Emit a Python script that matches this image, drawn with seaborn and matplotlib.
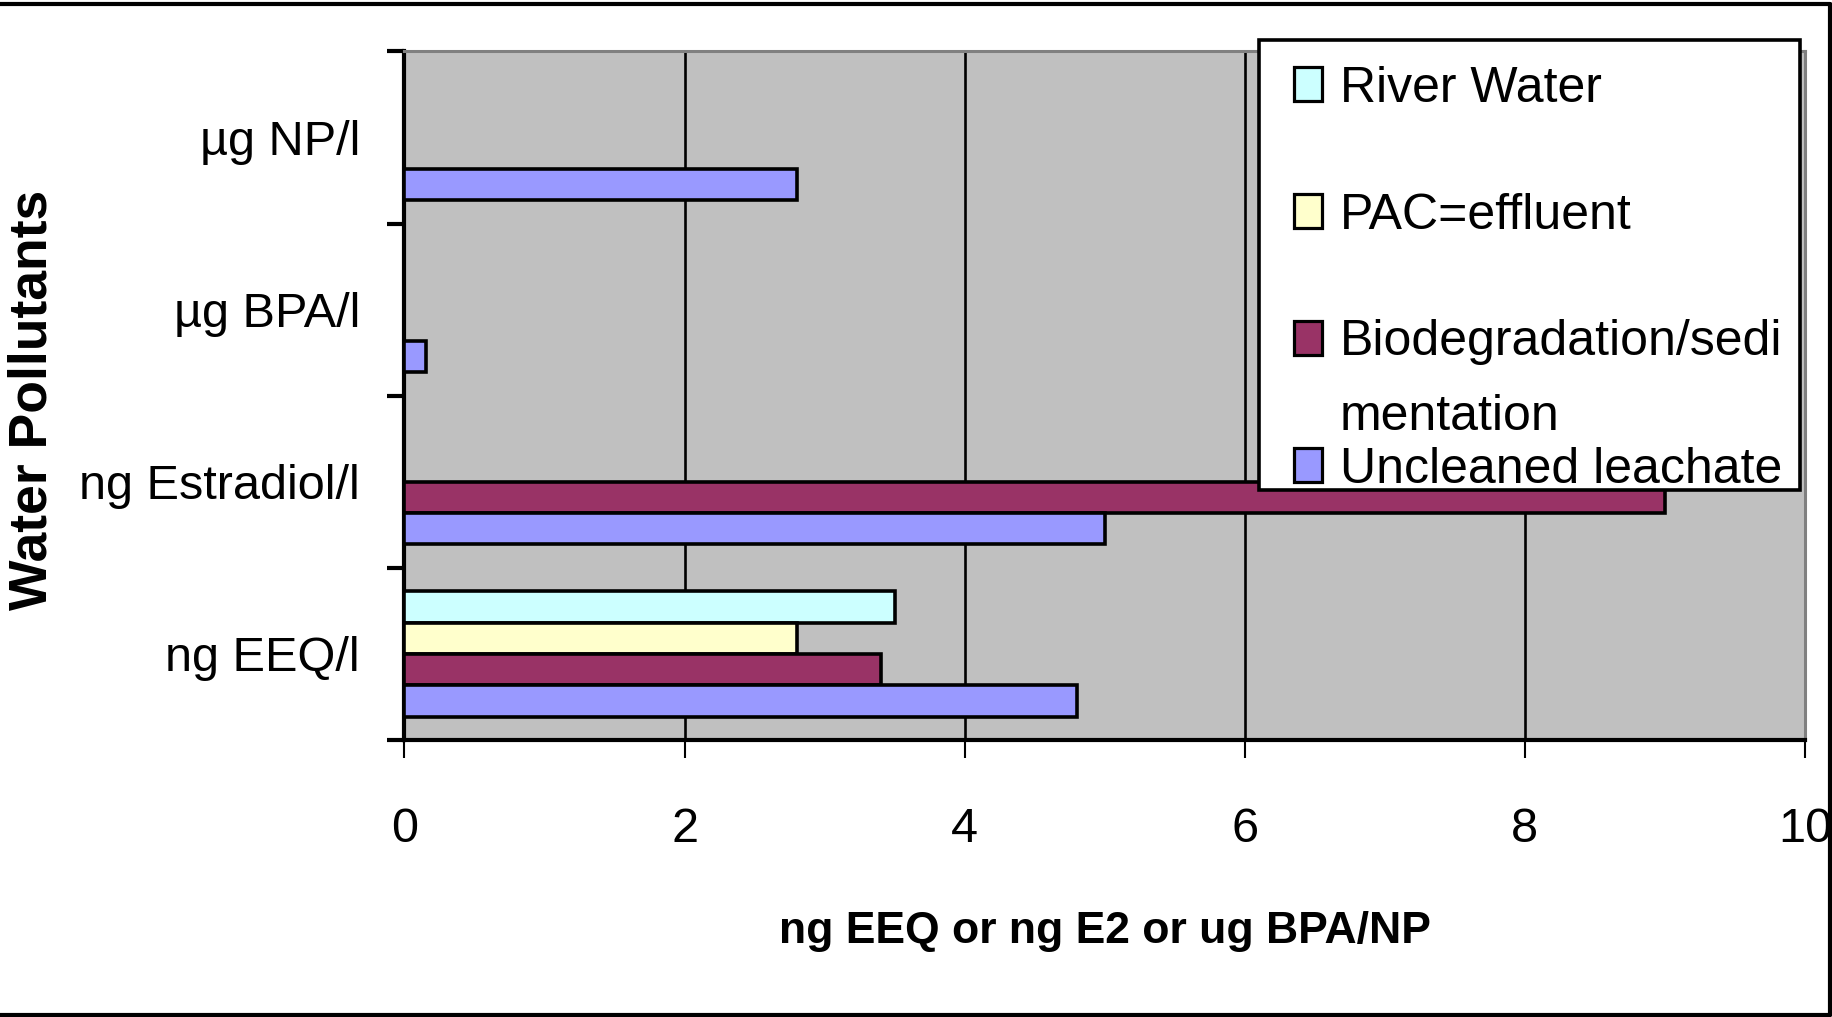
import numpy as np
import pandas as pd
import matplotlib
matplotlib.use("Agg")
import matplotlib.pyplot as plt
from matplotlib.patches import Rectangle
from matplotlib.lines import Line2D
from matplotlib.ticker import FixedLocator
import seaborn as sns

# ---- data ----
pollutants = ["µg NP/l", "µg BPA/l", "ng Estradiol/l", "ng EEQ/l"]
series = ["River Water", "PAC=effluent", "Biodegradation/sedimentation", "Uncleaned leachate"]
legend_labels = ["River Water", "PAC=effluent", "Biodegradation/sedi\nmentation", "Uncleaned leachate"]
river_water = [np.nan, np.nan, np.nan, 3.5]
pac_effluent = [np.nan, np.nan, np.nan, 2.8]
biodegradation = [np.nan, np.nan, 9.0, 3.4]
uncleaned_leachate = [2.8, 0.15, 5.0, 4.8]
colors = ["#CCFFFF", "#FFFFCC", "#993366", "#9999FF"]
x_ticks = [0, 2, 4, 6, 8, 10]

rows = []
for name, vals in zip(series, [river_water, pac_effluent, biodegradation, uncleaned_leachate]):
    for cat, v in zip(pollutants, vals):
        rows.append({"pollutant": cat, "series": name, "value": v})
df = pd.DataFrame(rows).dropna()

# ---- style ----
sns.set_style("white")
font = ["Liberation Sans", "DejaVu Sans"]
plt.rcParams["font.family"] = font
plt.rcParams["text.color"] = "black"
plt.rcParams["axes.labelcolor"] = "black"
plt.rcParams["xtick.color"] = "black"
plt.rcParams["ytick.color"] = "black"

W, H = 1833, 1017
fig = plt.figure(figsize=(W / 100, H / 100), dpi=100)
fig.patch.set_facecolor("white")


def fx(px):
    return px / W


def fy(py):
    return 1 - py / H


ax_left, ax_right, ax_top, ax_bottom = 404.5, 1805.0, 51.4, 740.0
ax = fig.add_axes([fx(ax_left), fy(ax_bottom), fx(ax_right - ax_left), (ax_bottom - ax_top) / H])
ax.set_facecolor("#C0C0C0")

sns.barplot(
    data=df, x="value", y="pollutant", hue="series",
    order=pollutants, hue_order=series, palette=colors,
    orient="h", width=4 / 5.5, gap=0, saturation=1,
    edgecolor="black", linewidth=2.6, legend=False, ax=ax, zorder=3,
)

ax.set_xlim(0, 10)
ax.set_ylim(len(pollutants) - 0.5, -0.5)

# vertical gridlines
ax.set_axisbelow(True)
ax.xaxis.set_major_locator(FixedLocator(x_ticks))
ax.grid(axis="x", color="black", linewidth=1.9)
ax.grid(axis="y", visible=False)
gl = ax.get_xgridlines()
gl[0].set_visible(False)
gl[-1].set_visible(False)

# spines
for s in ["left", "bottom"]:
    ax.spines[s].set_color("black")
    ax.spines[s].set_linewidth(3.0)
for s in ["top", "right"]:
    ax.spines[s].set_color("#808080")
    ax.spines[s].set_linewidth(2.2)

# x ticks
ax.set_xticklabels([str(t) for t in x_ticks], fontsize=35)
ax.tick_params(axis="x", which="major", direction="out", length=13, width=1.5,
               color="black", labelcolor="black", pad=35, bottom=True)

# y ticks: labels centred on each category, tick marks at category boundaries
ax.set_yticks(range(len(pollutants)))
ax.set_yticklabels(pollutants, fontsize=35)
ax.tick_params(axis="y", which="major", length=0, pad=32, left=True, labelcolor="black")
ax.yaxis.set_minor_locator(FixedLocator(np.arange(-0.5, len(pollutants), 1.0)))
ax.tick_params(axis="y", which="minor", direction="out", length=12.5, width=3, color="black", left=True)

# axis titles
ax.set_xlabel("ng EEQ or ng E2 or ug BPA/NP", fontsize=32, fontweight="bold")
ax.xaxis.label.set_va("baseline")
ax.xaxis.set_label_coords(0.5, (ax_bottom - 943) / (ax_bottom - ax_top))
ax.set_ylabel("Water Pollutants", fontsize=38.5, fontweight="bold")
ax.yaxis.label.set_va("baseline")
ax.yaxis.set_label_coords((47 - ax_left) / (ax_right - ax_left), (ax_bottom - 400) / (ax_bottom - ax_top))

# legend box
lg_l, lg_r, lg_t, lg_b = 1259, 1800, 40, 490
fig.add_artist(Rectangle((fx(lg_l), fy(lg_b)), fx(lg_r - lg_l), (lg_b - lg_t) / H,
                         transform=fig.transFigure, facecolor="white", edgecolor="black",
                         linewidth=2.6, zorder=10))
patch_centers = [84, 211, 338, 465]
text_baselines = [[102], [229], [355, 430], [483]]
for color, label, pc, bls in zip(colors, legend_labels, patch_centers, text_baselines):
    fig.add_artist(Rectangle((fx(1294), fy(pc + 17)), fx(28), 34 / H,
                             transform=fig.transFigure, facecolor=color, edgecolor="black",
                             linewidth=2.3, zorder=11))
    for line, bl in zip(label.split("\n"), bls):
        fig.text(fx(1340), fy(bl), line, fontsize=36, ha="left", va="baseline", zorder=12)

# outer frame (top, right, bottom)
frame_kw = dict(transform=fig.transFigure, color="black", linewidth=3, zorder=20)
fig.add_artist(Line2D([0, fx(1830.5)], [fy(4), fy(4)], **frame_kw))
fig.add_artist(Line2D([fx(1830.5), fx(1830.5)], [fy(4), fy(1015)], **frame_kw))
fig.add_artist(Line2D([0, fx(1830.5)], [fy(1015), fy(1015)], **frame_kw))

fig.savefig("out.png", dpi=100, facecolor="white")
